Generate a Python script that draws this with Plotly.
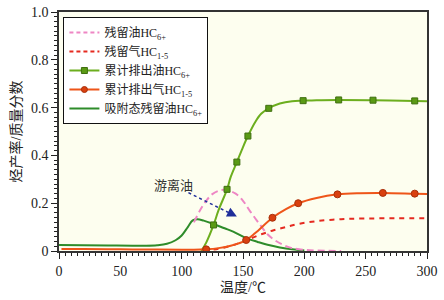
import plotly.graph_objects as go

# ---- data ----
# 吸附态残留油 HC6+
ads_x = [0, 20, 40, 60, 70, 80, 88, 95, 100, 105, 109, 113, 118, 125, 135, 142, 153, 162, 170, 180, 190, 200]
ads_y = [0.025, 0.024, 0.023, 0.022, 0.022, 0.024, 0.030, 0.045, 0.065, 0.100, 0.128, 0.133, 0.127, 0.115, 0.095, 0.081, 0.053, 0.038, 0.026, 0.015, 0.007, 0.002]
# 残留油 HC6+
res_oil_x = [110, 115, 120, 125, 130, 134, 138, 144, 150, 156, 164, 170, 176, 183, 190, 200, 210, 230]
res_oil_y = [0.12, 0.17, 0.21, 0.238, 0.252, 0.256, 0.253, 0.24, 0.21, 0.165, 0.109, 0.07, 0.045, 0.025, 0.012, 0.005, 0.002, 0.0]
# 残留气 HC1-5
res_gas_x = [118, 125, 135, 145, 155, 165, 175, 185, 195, 210, 230, 250, 275, 300]
res_gas_y = [0.0, 0.005, 0.015, 0.03, 0.05, 0.07, 0.087, 0.10, 0.113, 0.125, 0.133, 0.136, 0.137, 0.137]
# 累计排出油 HC6+
cum_oil_x = [116, 120, 126, 130, 137, 140, 145, 150, 154, 160, 165, 171, 180, 190, 199, 210, 228, 256, 290, 300]
cum_oil_y = [0.0, 0.035, 0.109, 0.17, 0.258, 0.31, 0.372, 0.435, 0.481, 0.54, 0.575, 0.597, 0.617, 0.627, 0.629, 0.631, 0.632, 0.631, 0.628, 0.627]
cum_oil_mx = [126, 137, 145, 154, 171, 199, 228, 256, 290]
cum_oil_my = [0.109, 0.258, 0.372, 0.481, 0.597, 0.629, 0.632, 0.631, 0.628]
# 累计排出气 HC1-5
cum_gas_x = [2, 20, 50, 80, 100, 110, 120, 130, 140, 152.6, 160, 174, 185, 195, 210, 227, 245, 264, 290, 300]
cum_gas_y = [0.008, 0.008, 0.007, 0.006, 0.005, 0.005, 0.007, 0.012, 0.022, 0.046, 0.075, 0.139, 0.175, 0.200, 0.222, 0.237, 0.242, 0.243, 0.240, 0.239]
cum_gas_mx = [120, 152.6, 174, 195, 227, 264, 290]
cum_gas_my = [0.007, 0.046, 0.139, 0.200, 0.237, 0.243, 0.240]

x_ticks = [0, 50, 100, 150, 200, 250, 300]
y_ticks = [0, 0.2, 0.4, 0.6, 0.8, 1.0]
y_ticktext = ["0", "0.2", "0.4", "0.6", "0.8", "1.0"]

names = ["残留油HC<sub>6+</sub>", "残留气HC<sub>1-5</sub>", "累计排出油HC<sub>6+</sub>",
         "累计排出气HC<sub>1-5</sub>", "吸附态残留油HC<sub>6+</sub>"]

C_PINK = "#EE86C4"
C_RED = "#E52A20"
C_GREEN = "#6CAE1E"
C_GREEN_M = "#5A9A14"
C_ORANGE = "#EE5519"
C_ORANGE_M = "#D9400F"
C_DGREEN = "#2E8C2A"

SERIF = "Liberation Serif, Noto Sans CJK SC, serif"

fig = go.Figure()

# curves
fig.add_trace(go.Scatter(x=ads_x, y=ads_y, mode="lines", line=dict(color=C_DGREEN, width=2, shape="spline"), showlegend=False))
fig.add_trace(go.Scatter(x=res_oil_x, y=res_oil_y, mode="lines", line=dict(color=C_PINK, width=2, dash="7px,4px", shape="spline"), showlegend=False))
fig.add_trace(go.Scatter(x=res_gas_x, y=res_gas_y, mode="lines", line=dict(color=C_RED, width=2, dash="5px,5px", shape="spline"), showlegend=False))
fig.add_trace(go.Scatter(x=cum_oil_x, y=cum_oil_y, mode="lines", line=dict(color=C_GREEN, width=2, shape="spline"), showlegend=False))
fig.add_trace(go.Scatter(x=cum_oil_mx, y=cum_oil_my, mode="markers",
                         marker=dict(symbol="square", size=6, color=C_GREEN_M, line=dict(color="#3F6E10", width=1)), showlegend=False))
fig.add_trace(go.Scatter(x=cum_gas_x, y=cum_gas_y, mode="lines", line=dict(color=C_ORANGE, width=2, shape="spline"), showlegend=False))
fig.add_trace(go.Scatter(x=cum_gas_mx, y=cum_gas_my, mode="markers",
                         marker=dict(symbol="circle", size=7, color=C_ORANGE_M, line=dict(color="#A8300A", width=1)), showlegend=False))

# legend entries
fig.add_trace(go.Scatter(x=[None], y=[None], mode="lines", name=names[0], line=dict(color=C_PINK, width=2, dash="4px,3px")))
fig.add_trace(go.Scatter(x=[None], y=[None], mode="lines", name=names[1], line=dict(color=C_RED, width=2, dash="4px,3px")))
fig.add_trace(go.Scatter(x=[None], y=[None], mode="lines+markers", name=names[2], line=dict(color=C_GREEN, width=2),
                         marker=dict(symbol="square", size=6, color=C_GREEN_M, line=dict(color="#3F6E10", width=1))))
fig.add_trace(go.Scatter(x=[None], y=[None], mode="lines+markers", name=names[3], line=dict(color=C_ORANGE, width=2),
                         marker=dict(symbol="circle", size=6, color=C_ORANGE_M, line=dict(color="#A8300A", width=1))))
fig.add_trace(go.Scatter(x=[None], y=[None], mode="lines", name=names[4], line=dict(color=C_DGREEN, width=2)))

# annotation: 游离油 with dotted arrow
fig.add_shape(type="line", x0=105.5, y0=0.244, x1=139, y1=0.159, xref="x", yref="y",
              line=dict(color="#1F2E9A", width=1.5, dash="dot"))
fig.add_annotation(x=145, y=0.144, ax=138, ay=0.162, xref="x", yref="y", axref="x", ayref="y",
                   text="", showarrow=True, arrowhead=2, arrowsize=1.3, arrowwidth=1.5, arrowcolor="#1F2E9A")
fig.add_annotation(x=93, y=0.276, xref="x", yref="y", text="游离油", showarrow=False,
                   font=dict(family=SERIF, size=13, color="#333333"))

fig.update_layout(
    width=444, height=300,
    margin=dict(l=59, r=17, t=12, b=49, autoexpand=False),
    paper_bgcolor="white",
    plot_bgcolor="#FDFEEF",
    font=dict(family=SERIF, size=14, color="#222222"),
    legend=dict(x=0.012, y=0.979, xanchor="left", yanchor="top",
                bgcolor="white", bordercolor="#111111", borderwidth=1,
                font=dict(family=SERIF, size=12, color="#222222"),
                tracegroupgap=0, itemwidth=30),
    showlegend=True,
)
fig.update_xaxes(range=[0, 300], tickvals=x_ticks, ticks="outside", ticklen=6, tickwidth=1.2, tickcolor="#222",
                 minor=dict(ticks="outside", ticklen=3, dtick=5, tickcolor="#222", tickwidth=1),
                 showgrid=False, zeroline=False, showline=True, linecolor="#333", linewidth=1.5, mirror=True,
                 automargin=False,
                 title=dict(text="温度/℃", font=dict(size=14), standoff=5),
                 tickfont=dict(size=14))
fig.update_yaxes(range=[0, 1.0], tickvals=y_ticks, ticktext=y_ticktext, ticks="outside", ticklen=6, tickwidth=1.2, tickcolor="#222",
                 minor=dict(ticks="outside", ticklen=3, dtick=0.02, tickcolor="#222", tickwidth=1),
                 showgrid=False, zeroline=False, showline=True, linecolor="#333", linewidth=1.5, mirror=True,
                 automargin=False, ticklabeloverflow="allow",
                 title=dict(text="烃产率/质量分数", font=dict(size=14), standoff=6),
                 tickfont=dict(size=14))

# remove the page's default 8px body margin so the figure fills the window exactly
fig.write_html("out.html", config={"displayModeBar": False},
               post_script="document.body.style.margin='0px';")
